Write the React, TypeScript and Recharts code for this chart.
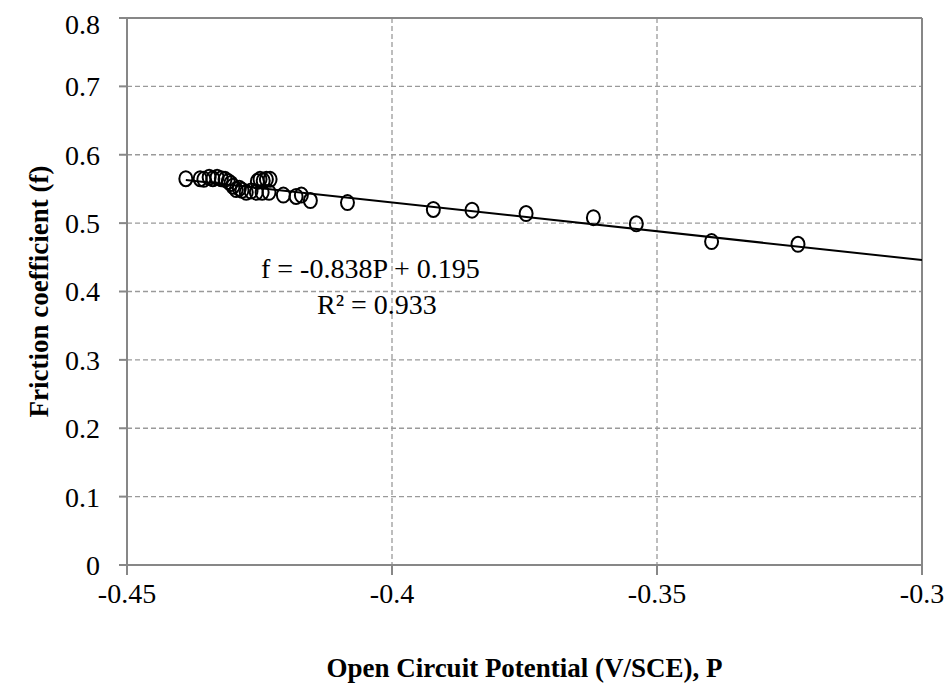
import React from "react";
import {
  ComposedChart, Scatter, XAxis, YAxis, CartesianGrid, ReferenceLine, Label,
} from "recharts";

// Open circuit potential (V/SCE) vs friction coefficient
const potential = [
  -0.4389, -0.4362, -0.4355, -0.4345, -0.4338, -0.433, -0.4322, -0.4315, -0.4309,
  -0.4304, -0.43, -0.4294, -0.4288, -0.4283, -0.4275, -0.4266, -0.4256, -0.4254,
  -0.4249, -0.4243, -0.4237, -0.423, -0.4245, -0.4232, -0.4205, -0.4181, -0.4171,
  -0.4154, -0.4084, -0.3922, -0.3849, -0.3747, -0.362, -0.3539, -0.3397, -0.3234,
];
const friction = [
  0.565, 0.565, 0.564, 0.567, 0.565, 0.567, 0.565, 0.564, 0.561,
  0.558, 0.554, 0.549, 0.551, 0.548, 0.545, 0.547, 0.545, 0.561,
  0.564, 0.562, 0.564, 0.564, 0.545, 0.545, 0.541, 0.539, 0.541,
  0.533, 0.53, 0.52, 0.519, 0.514, 0.508, 0.499, 0.473, 0.469,
];

// linear trendline end points
const trendP = [-0.4389, -0.3];
const trendF = [0.563, 0.446];

const xTicks = [-0.45, -0.4, -0.35, -0.3];
const yTicks = [0, 0.1, 0.2, 0.3, 0.4, 0.5, 0.6, 0.7, 0.8];

const points = potential.map((p, i) => ({ p, f: friction[i] }));
const trend = trendP.map((p, i) => ({ p, f: trendF[i] }));

const FONT = "'Liberation Serif', 'Times New Roman', serif";
const GRAY = "#878787";

const OpenCircle = (props: any) => {
  const { cx, cy } = props;
  if (cx == null || cy == null) return null;
  return <ellipse cx={cx} cy={cy} rx={6.5} ry={7.5} fill="none" stroke="#000" strokeWidth={2} />;
};

export default function App() {
  return (
    <div style={{ position: "relative", width: 944, height: 685, fontFamily: FONT }}>
      <ComposedChart
        width={944}
        height={685}
        margin={{ top: 10, right: 30, bottom: 18, left: 0 }}
      >
        <CartesianGrid stroke="#9a9a9a" strokeDasharray="5 3" strokeWidth={1.3} />
        <XAxis
          type="number"
          dataKey="p"
          domain={[-0.45, -0.3]}
          ticks={xTicks}
          allowDataOverflow
          height={110}
          stroke={GRAY}
          strokeWidth={2}
          tickSize={10}
          tickMargin={8}
          tick={{ fill: "#000", fontSize: 28, fontFamily: FONT }}
        >
          <Label
            value="Open Circuit Potential (V/SCE), P"
            position="insideBottom"
            offset={0}
            dy={2}
            style={{ fill: "#000", fontSize: 27, fontWeight: "bold", fontFamily: FONT }}
          />
        </XAxis>
        <YAxis
          type="number"
          dataKey="f"
          domain={[0, 0.8]}
          ticks={yTicks}
          width={119}
          stroke={GRAY}
          strokeWidth={2}
          tickSize={8}
          tickMargin={19}
          tick={{ fill: "#000", fontSize: 28, fontFamily: FONT }}
        >
          <Label
            value="Friction coefficient (f)"
            angle={-90}
            position="insideLeft"
            offset={30}
            style={{ textAnchor: "middle", fill: "#000", fontSize: 27, fontWeight: "bold", fontFamily: FONT }}
          />
        </YAxis>
        <ReferenceLine y={0.8} stroke={GRAY} strokeWidth={2} />
        <ReferenceLine x={-0.3} stroke={GRAY} strokeWidth={2} />
        <Scatter
          data={trend}
          line={{ stroke: "#000", strokeWidth: 2 }}
          shape={() => null}
          isAnimationActive={false}
        />
        <Scatter data={points} shape={OpenCircle} isAnimationActive={false} />
      </ComposedChart>
      <div
        style={{
          position: "absolute", left: 253, top: 247, fontSize: 28, lineHeight: 1,
          whiteSpace: "nowrap", color: "#000",
        }}
      >
        f = -0.838P + 0.195
      </div>
      <div
        style={{
          position: "absolute", left: 309, top: 283, fontSize: 28, lineHeight: 1,
          whiteSpace: "nowrap", color: "#000",
        }}
      >
        R² = 0.933
      </div>
    </div>
  );
}
